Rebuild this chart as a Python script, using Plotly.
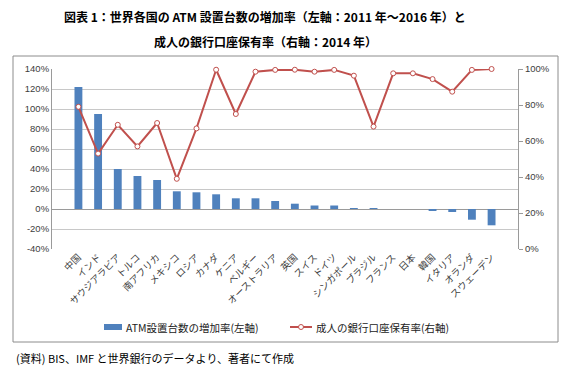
import plotly.graph_objects as go

categories = ["中国", "インド", "サウジアラビア", "トルコ", "南アフリカ", "メキシコ", "ロシア",
              "カナダ", "ケニア", "ベルギー", "オーストラリア", "英国", "スイス", "ドイツ",
              "シンガポール", "ブラジル", "フランス", "日本", "韓国", "イタリア", "オランダ", "スウェーデン"]
atm_growth = [122, 95, 40, 33, 29, 17.7, 16.7, 14.7, 10.7, 10.7, 8, 5.3, 3.5, 3.5,
              1, 0.8, 0, 0, -2, -3, -10.7, -16.3]
account_rate = [79, 53, 69, 57, 70, 39, 67, 99.6, 75, 98.5, 99.5, 99.6, 98.5, 99.5,
                96.3, 68, 97.6, 97.6, 94.4, 87.4, 99.5, 100]

left_ticks = list(range(-40, 141, 20))
right_ticks = list(range(0, 101, 20))

bar_name = "ATM設置台数の増加率(左軸)"
line_name = "成人の銀行口座保有率(右軸)"
title1 = "図表 1：世界各国の ATM 設置台数の増加率（左軸：2011 年～2016 年）と"
title2 = "成人の銀行口座保有率（右軸：2014 年）"
source = "(資料) BIS、IMF と世界銀行のデータより、著者にて作成"

FONT = "Noto Sans CJK JP"
BLUE = "#4F81BD"
RED = "#C0504D"

# page-pixel helpers (plot area spans x 52..518, y 69..249 on the page; body has 8px margin)
PL, PR, PT, PB = 52, 518, 69, 249
def px(x):
    return (x - PL) / (PR - PL)
def py(y):
    return (PB - y) / (PB - PT)

fig = go.Figure()
fig.add_trace(go.Bar(x=categories, y=atm_growth, name=bar_name, showlegend=False,
                     marker=dict(color=BLUE, line=dict(width=0)), yaxis="y"))
fig.add_trace(go.Scatter(x=categories, y=account_rate, name=line_name, mode="lines+markers",
                         showlegend=False, cliponaxis=False,
                         line=dict(color=RED, width=2),
                         marker=dict(symbol="circle", size=5, color="white",
                                     line=dict(color=RED, width=1)),
                         yaxis="y2"))

fig.update_layout(
    width=562, height=364,
    margin=dict(l=44, r=52, t=61, b=123),
    paper_bgcolor="white", plot_bgcolor="white",
    font=dict(family=FONT, size=10, color="#404040"),
    bargap=0.6,
    showlegend=False,
    xaxis=dict(tickangle=-45, tickfont=dict(size=9.5, color="#404040"), showgrid=False,
               showline=False, ticks="", automargin=False),
    yaxis=dict(range=[-40, 140], tickvals=left_ticks, ticktext=[f"{v}%" for v in left_ticks],
               showgrid=True, gridcolor="#C8C8C8", gridwidth=1,
               zeroline=True, zerolinecolor="#9A9A9A", zerolinewidth=1,
               showline=True, linecolor="#9A9A9A", ticks="",
               tickfont=dict(size=9.5, family="Liberation Sans", color="#404040"),
               automargin=False),
    yaxis2=dict(range=[0, 100], tickvals=right_ticks, ticktext=[f"{v}%" for v in right_ticks],
                overlaying="y", side="right", showgrid=False, zeroline=False,
                showline=True, linecolor="#9A9A9A", ticks="outside", ticklen=4, tickcolor="#9A9A9A",
                tickfont=dict(size=9.5, family="Liberation Sans", color="#404040"), automargin=False),
)

# outer chart frame
fig.add_shape(type="rect", xref="paper", yref="paper", x0=px(13), x1=px(558), y0=py(342), y1=py(56),
              line=dict(color="#8C8C8C", width=1), fillcolor="rgba(0,0,0,0)", layer="below")

# custom legend
LY = 327
fig.add_shape(type="rect", xref="paper", yref="paper", x0=px(104), x1=px(122), y0=py(LY + 3), y1=py(LY - 3),
              line=dict(width=0), fillcolor=BLUE)
fig.add_annotation(text=bar_name, xref="paper", yref="paper", x=px(124), y=py(LY), showarrow=False,
                   xanchor="left", yanchor="middle", font=dict(size=10.5, family=FONT, color="#222"))
fig.add_shape(type="line", xref="paper", yref="paper", x0=px(290), x1=px(312), y0=py(LY), y1=py(LY),
              line=dict(color=RED, width=2))
fig.add_shape(type="circle", xref="paper", yref="paper", x0=px(298.5), x1=px(303.5), y0=py(LY + 2.5),
              y1=py(LY - 2.5), line=dict(color=RED, width=1), fillcolor="white")
fig.add_annotation(text=line_name, xref="paper", yref="paper", x=px(314), y=py(LY), showarrow=False,
                   xanchor="left", yanchor="middle", font=dict(size=10.5, family=FONT, color="#222"))

fig.add_annotation(text=f"<b>{title1}</b>", xref="paper", yref="paper", x=px(265), y=py(17),
                   showarrow=False, font=dict(size=12, family=FONT, color="black"),
                   xanchor="center", yanchor="middle")
fig.add_annotation(text=f"<b>{title2}</b>", xref="paper", yref="paper", x=px(265), y=py(41),
                   showarrow=False, font=dict(size=12, family=FONT, color="black"),
                   xanchor="center", yanchor="middle")
fig.add_annotation(text=source, xref="paper", yref="paper", x=px(14), y=py(358),
                   showarrow=False, font=dict(size=11, family=FONT, color="black"),
                   xanchor="left", yanchor="middle")

fig.write_html("out.html")
